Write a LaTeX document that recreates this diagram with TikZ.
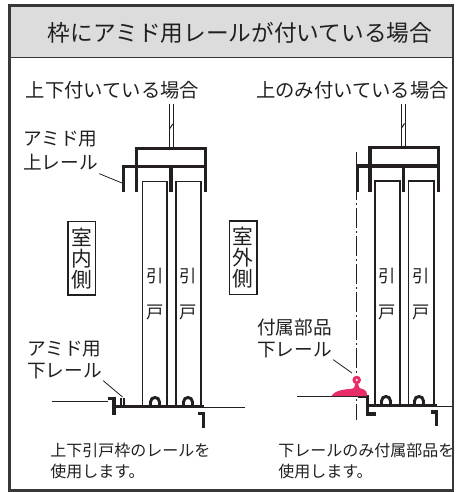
\documentclass[tikz,border=0pt]{standalone}
\usepackage{fontspec}
\newfontfamily\jp{Noto Sans CJK JP}
\definecolor{ink}{RGB}{35,31,32}
\definecolor{edge}{RGB}{55,55,55}
\definecolor{band}{RGB}{220,220,221}
\definecolor{pinkpart}{RGB}{231,46,104}
\begin{document}
\begin{tikzpicture}[x=0.75pt,y=-0.75pt,
  titletxt/.style={font=\jp\fontsize{17}{20}\selectfont, inner sep=0pt, text=ink},
  subtxt/.style={font=\jp\fontsize{14.5}{17}\selectfont, inner sep=0pt, text=ink},
  lbl/.style={font=\jp\fontsize{14}{16}\selectfont, inner sep=0pt, anchor=west, text=ink, text height=11.6pt, text depth=1pt},
  note/.style={font=\jp\fontsize{12}{14}\selectfont, inner sep=0pt, anchor=west, text=ink, text height=10pt, text depth=0.85pt},
  doortxt/.style={font=\jp\fontsize{13}{15}\selectfont, inner sep=0pt, text=ink, text height=10.8pt, text depth=0.9pt},
  sidebox/.style={draw=ink, line width=0.8pt, font=\jp\fontsize{15.5}{15.75}\selectfont, align=center, inner sep=0pt, minimum width=20.8pt, minimum height=55pt, text=ink},
  railline/.style={draw=ink, line width=2.3pt, line join=miter},
  rollerline/.style={draw=ink, line width=2.2pt},
  thinline/.style={draw=ink, line width=0.75pt},
  doorline/.style={draw=ink, line width=0.8pt},
  leader/.style={draw=ink, line width=0.6pt},
  centerline/.style={draw=ink, line width=0.7pt, dash pattern=on 15pt off 2.25pt on 1.5pt off 2.25pt}
]
\useasboundingbox (0,0) rectangle (455,492);

% frame and title band
\fill[band] (9.5,5.5) rectangle (453,57.5);
\draw[edge, line width=1.2pt] (9.5,57.5) -- (453,57.5);
\draw[edge, line width=1.9pt] (9.5,5.5) rectangle (453,490.5);
\node[titletxt] (title) at (240,33) {枠にアミド用レールが付いている場合};

\node[subtxt] (subL) at (112.5,90) {上下付いている場合};
\node[subtxt] (subR) at (352.5,90) {上のみ付いている場合};

% ===== left diagram =====
\draw[thinline] (169.3,104) -- (169.3,148.3) (173.3,104) -- (173.3,148.3);
\draw[thinline] (169.8,128.5) -- (172.8,124);
\draw[railline] (136.7,192) -- (136.7,148.3) -- (205.7,148.3) -- (205.7,192);
\draw[railline] (123.3,192) -- (123.3,166.7) -- (205.7,166.7);
\draw[railline] (171,166.7) -- (171,192);
\draw[doorline] (142.5,181.7) rectangle (167,405.5);
\draw[doorline] (176,181.7) rectangle (201,405.5);
\foreach \cx in {155,188}{
  \draw[rollerline] (\cx-4.5,406.5) -- (\cx-4.5,402) .. controls (\cx-4.5,396) and (\cx+4.5,396) .. (\cx+4.5,402) -- (\cx+4.5,406.5);
}
\draw[railline] (108,398.3) -- (114,398.3) -- (114,415);
\draw[railline] (114,406.7) -- (204,406.7);
\draw[railline] (198,413.8) -- (203.5,413.8) -- (203.5,427.5);
\draw[ink, line width=1.2pt] (120.8,398) -- (120.8,406.7) (124.2,398) -- (124.2,406.7);
\draw[thinline] (52,401.7) -- (108,401.7);
\draw[thinline] (204,407.5) -- (245,407.5);

\node[doortxt] (hikiL1) at (154.7,276) {引};
\node[doortxt] (hikiL2) at (188.5,276) {引};
\node[doortxt] (toL1) at (154.7,312) {戸};
\node[doortxt] (toL2) at (188.5,312) {戸};

\node[sidebox] (inside) at (81.85,258.35) {室\\内\\側};

\node[lbl] (upA) at (23,138) {アミド用};
\node[lbl] (upB) at (23,162) {上レール};
\coordinate (upTip) at (122,183);
\draw[leader] (upB.south east) ++(1,3) -- (upTip);

\node[lbl] (loA) at (27,348) {アミド用};
\node[lbl] (loB) at (27,370) {下レール};
\coordinate (loTip) at (122.5,397);
\draw[leader] (loB.south east) ++(1,2) -- (loTip);

\node[note] (noteL1) at (50,450) {上下引戸枠のレールを};
\node[note] (noteL2) at (50,471.5) {使用します。};

% ===== right diagram =====
\draw[centerline] (356.7,152) -- (356.7,420);
\draw[thinline] (401,104) -- (401,147.7) (405,104) -- (405,147.7);
\draw[thinline] (401.5,128) -- (404.5,123.5);
\draw[railline] (370,192) -- (370,147.7) -- (438.3,147.7) -- (438.3,192);
\draw[railline] (357.3,192) -- (357.3,166) -- (438.3,166);
\draw[railline] (403.3,166) -- (403.3,192);
\draw[doorline] (375,181) rectangle (400,404.5);
\draw[doorline] (408.3,181) rectangle (434,404.5);
\foreach \cx in {386,419}{
  \draw[rollerline] (\cx-4.5,405.5) -- (\cx-4.5,401) .. controls (\cx-4.5,395) and (\cx+4.5,395) .. (\cx+4.5,401) -- (\cx+4.5,405.5);
}
\draw[railline] (358,396.7) -- (367.5,396.7) -- (367.5,414) -- (376,414);
\draw[railline] (367.5,405.7) -- (437,405.7);
\draw[railline] (430.5,412) -- (436.5,412) -- (436.5,426);
\draw[thinline] (297,396) -- (358,396);
\draw[thinline] (437,406) -- (452,406);

% pink accessory rail
\fill[pinkpart] (331.5,396) .. controls (334,391) and (342,389.5) .. (350,389)
  .. controls (354,388.8) and (355.2,387) .. (355.2,384) -- (358.2,384)
  .. controls (358.2,387) and (359.5,388.8) .. (363,389)
  .. controls (366,389.3) and (367,392) .. (367,396) -- cycle;
\fill[pinkpart] (356.7,380) circle[radius=4.3];
\fill[white] (356.7,380) circle[radius=1.2];

\node[doortxt] (hikiR1) at (387.5,276) {引};
\node[doortxt] (hikiR2) at (421,276) {引};
\node[doortxt] (toR1) at (387.5,312) {戸};
\node[doortxt] (toR2) at (421,312) {戸};

\node[sidebox] (outside) at (243.15,257.65) {室\\外\\側};

\node[lbl] (acA) at (257,327) {付属部品};
\node[lbl] (acB) at (257,349) {下レール};
\coordinate (acTip) at (352,373);
\draw[leader] (acB.south east) ++(1,2) -- (acTip);

\node[note] (noteR1) at (278,450) {下レールのみ付属部品を};
\node[note] (noteR2) at (278,471.5) {使用します。};
\end{tikzpicture}
\end{document}
